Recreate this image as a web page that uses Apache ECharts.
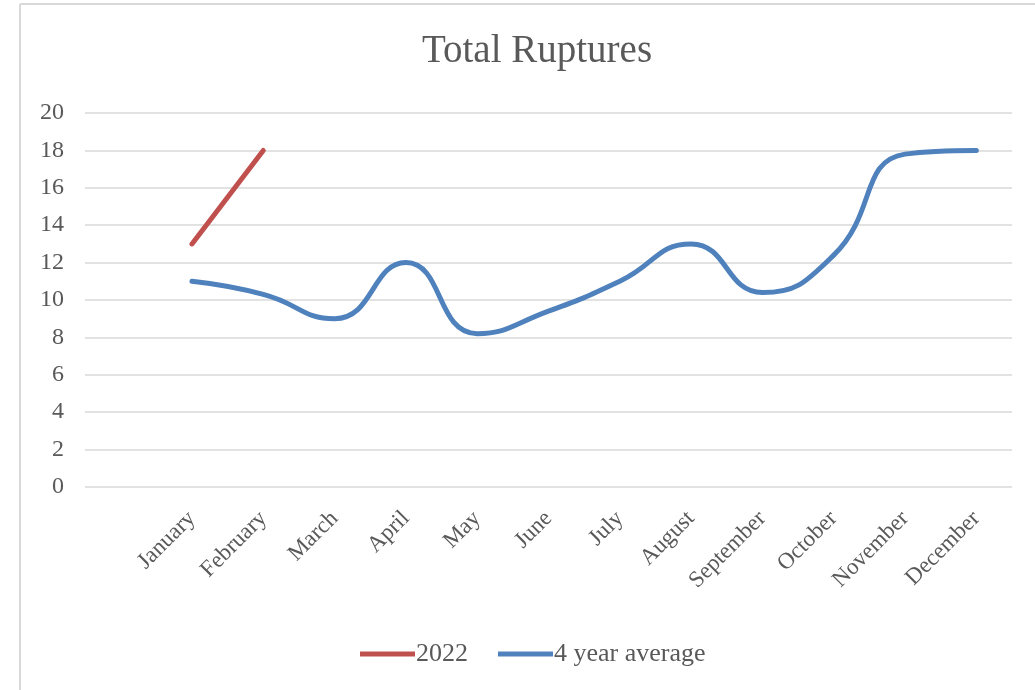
<!DOCTYPE html>
<html>
<head>
<meta charset="utf-8">
<script src="https://cdn.jsdelivr.net/npm/echarts@6/dist/echarts.min.js"></script>
<style>
  html, body { margin: 0; padding: 0; background: #ffffff; }
  #chart { width: 1035px; height: 690px; }
</style>
</head>
<body>
<div id="chart"></div>
<script>
// Monthly rupture counts
const months = ['January', 'February', 'March', 'April', 'May', 'June',
  'July', 'August', 'September', 'October', 'November', 'December'];
const series2022 = [13, 18];
const fourYearAverage = [11, 10.3, 9, 12, 8.2, 9.4, 11, 13, 10.4, 12.4, 17.8, 18];
const yTicks = { min: 0, max: 20, interval: 2 };

// A leading blank band keeps the months shifted right of the value axis
const axisCategories = [''].concat(months);
const pad = (arr) => [null].concat(arr);

const textColor = '#595959';
const serif = '"Liberation Serif", "DejaVu Serif", serif';

const chart = echarts.init(document.getElementById('chart'), null, { renderer: 'canvas' });
chart.setOption({
  backgroundColor: '#ffffff',
  animation: false,
  title: {
    text: 'Total Ruptures',
    left: 532,
    top: 27,
    textAlign: 'center',
    textStyle: { fontFamily: serif, fontSize: 39, fontWeight: 'normal', color: textColor }
  },
  legend: {
    top: 636,
    left: 355,
    itemWidth: 55,
    itemHeight: 5,
    itemGap: 30,
    icon: 'rect',
    textStyle: { fontFamily: serif, fontSize: 26, color: textColor, padding: [0, 0, 0, -4] },
    data: ['2022', '4 year average']
  },
  grid: { left: 85, right: 23, top: 113, bottom: 203, containLabel: false },
  xAxis: {
    type: 'category',
    data: axisCategories,
    boundaryGap: true,
    axisLine: { show: false },
    axisTick: { show: false },
    axisLabel: {
      rotate: 45,
      interval: 0,
      margin: 28,
      fontFamily: serif,
      fontSize: 23,
      color: textColor
    }
  },
  yAxis: {
    type: 'value',
    min: yTicks.min,
    max: yTicks.max,
    interval: yTicks.interval,
    axisLine: { show: false },
    axisTick: { show: false },
    axisLabel: { margin: 21, fontFamily: serif, fontSize: 24, color: textColor },
    splitLine: { lineStyle: { color: '#d9d9d9', width: 1.5 } }
  },
  series: [
    {
      name: '2022',
      type: 'line',
      data: pad(series2022),
      smooth: 0.5,
      showSymbol: false,
      symbol: 'none',
      lineStyle: { color: '#c0504d', width: 5, cap: 'round' },
      itemStyle: { color: '#c0504d' }
    },
    {
      name: '4 year average',
      type: 'line',
      data: pad(fourYearAverage),
      smooth: 0.5,
      showSymbol: false,
      symbol: 'none',
      lineStyle: { color: '#4f81bd', width: 5, cap: 'round' },
      itemStyle: { color: '#4f81bd' }
    }
  ],
  graphic: [
    { type: 'line', shape: { x1: 20, y1: 4, x2: 1035, y2: 4 }, style: { stroke: '#d9d9d9', lineWidth: 2 }, silent: true },
    { type: 'line', shape: { x1: 20, y1: 4, x2: 20, y2: 690 }, style: { stroke: '#d9d9d9', lineWidth: 2 }, silent: true }
  ]
});
</script>
</body>
</html>
